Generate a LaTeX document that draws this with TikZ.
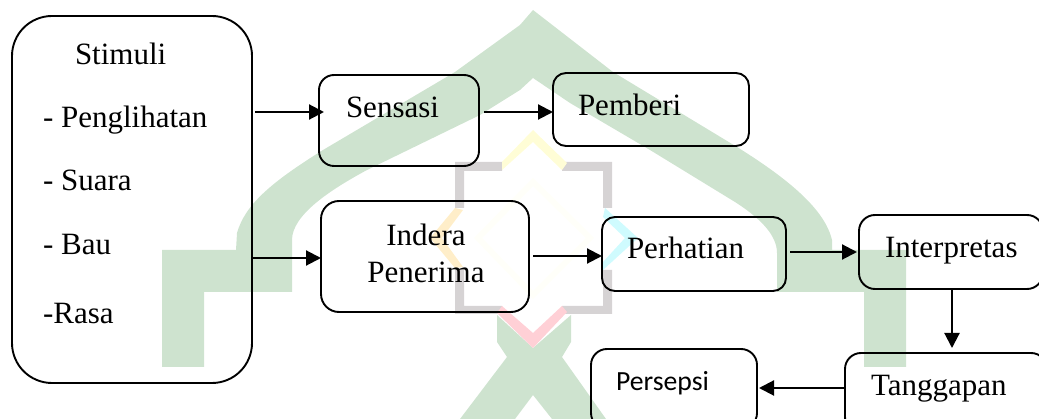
\documentclass[tikz,border=0pt]{standalone}
\usepackage{fontspec}
\setmainfont{Liberation Serif}
\newfontfamily\calfont{Carlito}
\usetikzlibrary{arrows.meta}
\definecolor{wmgreen}{HTML}{CEE3CF}
\definecolor{wmgray}{HTML}{D6D3D4}
\definecolor{wmyellow}{HTML}{FFFDD6}
\definecolor{wmorange}{HTML}{FFEEC9}
\definecolor{wmcyan}{HTML}{CFFBFE}
\definecolor{wmpink}{HTML}{FFD0D6}
\definecolor{wmfaint}{HTML}{FFFFF9}
\tikzset{
  box/.style={draw=black,line width=1.9pt,inner sep=0pt,outer sep=0pt,fill=none},
  arr/.style={draw=black,line width=2.1pt,-{Triangle[length=15pt,width=15pt]}},
  lbl/.style={anchor=base west,inner sep=0pt,outer sep=0pt,font=\fontsize{31}{34}\selectfont},
  lblc/.style={anchor=base,inner sep=0pt,outer sep=0pt,font=\fontsize{31}{34}\selectfont},
  lbls/.style={anchor=base west,inner sep=0pt,outer sep=0pt,font=\calfont\fontsize{27.7}{32}\selectfont},
}
\begin{document}
\begin{tikzpicture}[x=1pt,y=-1pt]
\useasboundingbox (0,0) rectangle (1039,419);
\clip (0,0) rectangle (1039,419);
% watermark
\fill[wmgreen] (162,250) -- (236,250) -- (237,233) .. controls (245,205) and (270,183) .. (323,150) -- (455,72) -- (520,25) -- (533,10)
  -- (613,72) -- (737,147) .. controls (790,180) and (825,210) .. (832,240) -- (832,250) -- (906,250) -- (906,367) -- (864,367) -- (864,292)
  -- (777,292) -- (777,253) .. controls (777,235) and (760,218) .. (735,202) -- (650,150) -- (570,103) -- (533,78) -- (520,90) -- (480,115) -- (367,170)
  .. controls (330,190) and (292,215) .. (292,240) -- (292,292) -- (204,292) -- (204,367) -- (162,367) -- cycle;
\fill[wmgreen] (497,315) -- (533,348) -- (571,315) -- (571,342) -- (562,357) -- (606,419) -- (552,419) -- (533,395) -- (515,419)
  -- (460,419) -- (507,357) -- (497,342) -- cycle;
\draw[wmfaint,line width=6pt] (533,182) -- (590,238) -- (533,295) -- (478,238) -- cycle;
\fill[wmgray] (455,162) -- (502,162) -- (502,171) -- (464,171) -- (464,208) -- (455,208) -- cycle;
\fill[wmgray] (455,268) -- (464,268) -- (464,306) -- (502,306) -- (502,314) -- (455,314) -- cycle;
\fill[wmgray] (562,162) -- (612,162) -- (612,208) -- (603,208) -- (603,171) -- (562,171) -- cycle;
\fill[wmgray] (603,270) -- (612,270) -- (612,314) -- (562,314) -- (562,306) -- (603,306) -- cycle;
\fill[wmyellow] (502,162) -- (533,130) -- (567,163) -- (562,170) -- (533,142) -- (502,170) -- cycle;
\fill[wmorange] (455,208) -- (430,238) -- (455,268) -- (463,267) -- (442,238) -- (463,210) -- cycle;
\fill[wmcyan] (605,208) -- (638,238) -- (603,270) -- (603,262) -- (625,238) -- (603,217) -- cycle;
\fill[wmpink] (502,306) -- (533,333) -- (562,306) -- (567,312) -- (533,348) -- (497,313) -- cycle;
% boxes
\node[box,rounded corners=40pt,minimum width=240pt,minimum height=367pt] (stimuli) at (132,199.5) {};
\node[box,rounded corners=15pt,minimum width=160pt,minimum height=91pt] (sensasi) at (399,120.5) {};
\node[box,rounded corners=13pt,minimum width=196pt,minimum height=73pt] (pemberi) at (651,109.5) {};
\node[box,rounded corners=18pt,minimum width=208pt,minimum height=111pt] (indera) at (425,256.5) {};
\node[box,rounded corners=13pt,minimum width=184pt,minimum height=74pt] (perhatian) at (694,254) {};
\node[box,rounded corners=16pt,minimum width=184pt,minimum height=74pt] (interpretas) at (951,252) {};
\node[box,rounded corners=16pt,minimum width=202pt,minimum height=80pt] (tanggapan) at (946,393) {};
\node[box,rounded corners=16pt,minimum width=166pt,minimum height=80pt] (persepsi) at (674,389) {};
% labels
\node[lbl] (t1) at (75,65) {Stimuli};
\node[lbl] (t2) at (43,128) {- Penglihatan};
\node[lbl] (t3) at (43,191) {- Suara};
\node[lbl] (t4) at (43,255) {- Bau};
\node[lbl] (t5) at (43,324) {-Rasa};
\node[lbl] (t6) at (346,118) {Sensasi};
\node[lbl] (t7) at (578,116) {Pemberi};
\node[lblc] (t8) at (426,246) {Indera};
\node[lblc] (t9) at (426,283) {Penerima};
\node[lbl] (t10) at (627,259) {Perhatian};
\node[lbl] (t11) at (885,258) {Interpretas};
\node[lbl] (t12) at (871,396) {Tanggapan};
\node[lbls] (t13) at (616,391) {Persepsi};
% connector levels
\coordinate (ya) at (0,112);
\coordinate (yb) at (0,258);
\coordinate (yc) at (0,256);
\coordinate (yd) at (0,252);
\coordinate (xe) at (952,0);
\coordinate (yf) at (0,388);
% connectors
\draw[arr,shorten <=3pt,shorten >=-5pt] (stimuli.east |- ya) -- (sensasi.west |- ya);
\draw[arr,shorten <=5pt] (sensasi.east |- ya) -- (pemberi.west |- ya);
\draw[arr] (stimuli.east |- yb) -- (indera.west |- yb);
\draw[arr,shorten <=4pt] (indera.east |- yc) -- (perhatian.west |- yc);
\draw[arr,shorten <=4pt,shorten >=2pt] (perhatian.east |- yd) -- (interpretas.west |- yd);
\draw[arr,shorten >=5pt] (interpretas.south -| xe) -- (tanggapan.north -| xe);
\draw[arr,shorten >=2pt] (tanggapan.west |- yf) -- (persepsi.east |- yf);
\end{tikzpicture}
\end{document}
